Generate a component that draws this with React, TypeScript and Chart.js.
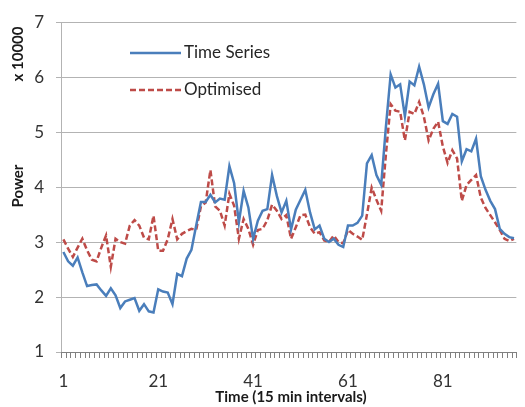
import React, { useEffect, useRef } from "react";
import { Chart, registerables } from "chart.js";

Chart.register(...registerables);

const categories: string[] = Array.from({ length: 96 }, (_, i) => String(i + 1));
const labeledTicks: string[] = ["1", "21", "41", "61", "81"];

const timeSeries: number[] = [
  2.82, 2.65, 2.57, 2.72, 2.45, 2.2, 2.22, 2.23, 2.12, 2.02,
  2.16, 2.03, 1.8, 1.92, 1.95, 1.98, 1.75, 1.87, 1.74, 1.72,
  2.14, 2.1, 2.08, 1.87, 2.42, 2.38, 2.7, 2.86, 3.3, 3.73,
  3.73, 3.86, 3.72, 3.79, 3.77, 4.38, 4.07, 3.36, 3.93, 3.63,
  3.06, 3.39, 3.57, 3.6, 4.22, 3.84, 3.54, 3.75, 3.23, 3.59,
  3.77, 3.95, 3.54, 3.23, 3.3, 3.06, 3.0, 3.06, 2.95, 2.91,
  3.3, 3.3, 3.35, 3.48, 4.43, 4.58, 4.22, 4.04, 5.1, 6.05,
  5.81, 5.87, 5.29, 5.92, 5.85, 6.19, 5.87, 5.45, 5.69, 5.88,
  5.2, 5.15, 5.33, 5.28, 4.47, 4.69, 4.65, 4.88, 4.2, 3.95,
  3.75, 3.6, 3.24, 3.15, 3.09, 3.07,
];

const optimised: number[] = [
  3.05, 2.88, 2.73, 2.9, 3.06, 2.85, 2.68, 2.65, 2.9, 3.12,
  2.55, 3.06, 3.0, 2.97, 3.3, 3.4, 3.3, 3.08, 3.05, 3.48,
  2.84, 2.84, 3.05, 3.42, 3.05, 3.15, 3.2, 3.24, 3.22, 3.65,
  3.72, 4.31, 3.65, 3.57, 3.3, 3.88, 3.66, 3.06, 3.42, 3.24,
  2.95, 3.22, 3.24, 3.4, 3.68, 3.57, 3.42, 3.49, 3.06, 3.27,
  3.49, 3.5, 3.27, 3.15, 3.18, 3.03, 3.0, 3.12, 3.0, 2.98,
  3.22, 3.15, 3.1, 3.04, 3.5, 3.99, 3.77, 3.57, 4.6, 5.51,
  5.39, 5.37, 4.85, 5.37, 5.33, 5.55, 5.28, 4.85, 5.06, 5.19,
  4.74, 4.44, 4.67, 4.52, 3.75, 4.04, 4.13, 4.22, 3.81, 3.62,
  3.49, 3.36, 3.22, 3.06, 3.02, 3.06,
];

const seriesNames: string[] = ["Time Series", "Optimised"];
const yTitle = "Power";
const yUnit = "x 10000";
const xTitle = "Time (15 min intervals)";

const BLUE = "#4A7EBB";
const RED = "#BE4B48";
const GRID = "#b3b3b3";
const TICK = "#808080";
const FONT = "Lato";

const overlayPlugin = {
  id: "overlay",
  afterDraw(chart: any) {
    const ctx = chart.ctx as CanvasRenderingContext2D;
    const area = chart.chartArea;
    ctx.save();
    // x axis line and category tick marks (between categories)
    const yb = Math.round(area.bottom);
    const n = categories.length;
    const step = (area.right - area.left) / n;
    ctx.strokeStyle = TICK;
    ctx.lineWidth = 1;
    ctx.beginPath();
    ctx.moveTo(area.left, yb + 0.5);
    ctx.lineTo(area.right, yb + 0.5);
    for (let i = 0; i <= n; i++) {
      const px = Math.round(area.left + i * step) + 0.5;
      ctx.moveTo(px, yb);
      ctx.lineTo(px, yb + 6);
    }
    ctx.stroke();

    ctx.fillStyle = "#1a1a1a";
    ctx.font = `bold 15px ${FONT}`;
    ctx.textAlign = "center";
    ctx.textBaseline = "middle";
    ctx.save();
    ctx.translate(18, 54);
    ctx.rotate(-Math.PI / 2);
    ctx.fillText(yUnit, 0, 0);
    ctx.restore();
    ctx.save();
    ctx.translate(18, 186);
    ctx.rotate(-Math.PI / 2);
    ctx.fillText(yTitle, 0, 0);
    ctx.restore();
    ctx.fillText(xTitle, 291, 397);

    ctx.lineWidth = 2.5;
    ctx.strokeStyle = BLUE;
    ctx.setLineDash([]);
    ctx.beginPath();
    ctx.moveTo(130, 53);
    ctx.lineTo(181, 53);
    ctx.stroke();
    ctx.strokeStyle = RED;
    ctx.setLineDash([6, 3]);
    ctx.beginPath();
    ctx.moveTo(130, 90);
    ctx.lineTo(181, 90);
    ctx.stroke();
    ctx.setLineDash([]);
    ctx.font = `17px ${FONT}`;
    ctx.textAlign = "left";
    ctx.fillStyle = "#262626";
    ctx.fillText(seriesNames[0], 184, 53);
    ctx.fillText(seriesNames[1], 184, 90);
    ctx.restore();
  },
};

export default function App() {
  const ref = useRef<HTMLCanvasElement | null>(null);
  useEffect(() => {
    if (!ref.current) return;
    const chart = new Chart(ref.current, {
      type: "line",
      data: {
        labels: categories,
        datasets: [
          {
            label: seriesNames[0],
            data: timeSeries,
            borderColor: BLUE,
            backgroundColor: BLUE,
            borderWidth: 2.5,
            pointRadius: 0,
            tension: 0,
          },
          {
            label: seriesNames[1],
            data: optimised,
            borderColor: RED,
            backgroundColor: RED,
            borderWidth: 2.5,
            borderDash: [6, 3],
            pointRadius: 0,
            tension: 0,
          },
        ],
      },
      options: {
        animation: false,
        responsive: false,
        maintainAspectRatio: false,
        layout: { padding: { top: 17, right: 1, left: 0, bottom: 0 } },
        plugins: {
          legend: { display: false },
          tooltip: { enabled: false },
        },
        scales: {
          x: {
            type: "category",
            offset: true,
            grid: { display: false },
            border: { display: false },
            ticks: {
              autoSkip: false,
              maxRotation: 0,
              minRotation: 0,
              padding: 11,
              color: "#333333",
              font: { family: FONT, size: 17 },
              callback: (_v: any, i: number) =>
                labeledTicks.includes(categories[i]) ? categories[i] : "",
            },
            afterFit: (scale: any) => {
              scale.height = 55;
            },
          },
          y: {
            min: 1,
            max: 7,
            grid: { color: GRID, tickLength: 5 },
            border: { color: GRID },
            ticks: {
              stepSize: 1,
              padding: 12,
              color: "#333333",
              font: { family: FONT, size: 17 },
            },
            afterFit: (scale: any) => {
              scale.width = 61;
            },
          },
        },
      },
      plugins: [overlayPlugin],
    });
    return () => chart.destroy();
  }, []);
  return (
    <div style={{ position: "fixed", left: 0, top: 0, width: 525, height: 407, background: "#fff" }}>
      <canvas ref={ref} width={525} height={407} style={{ width: 525, height: 407 }} />
    </div>
  );
}
